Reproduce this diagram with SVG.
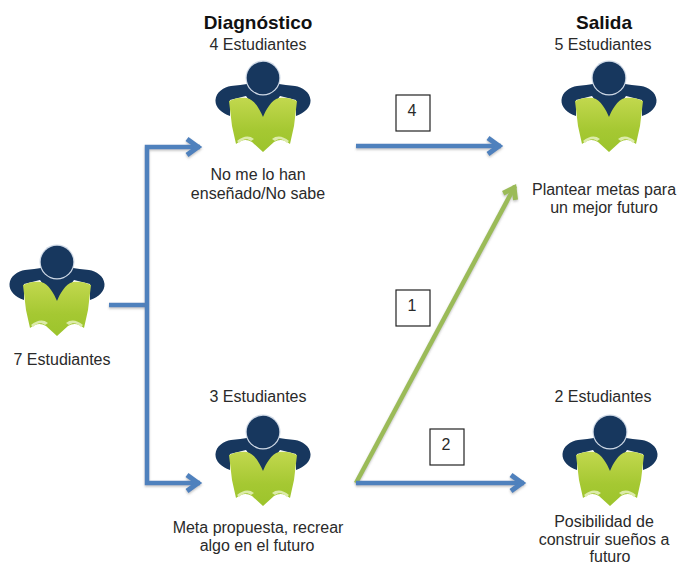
<svg xmlns="http://www.w3.org/2000/svg" width="677" height="565" viewBox="0 0 677 565">
<style>
text{font-family:"Liberation Sans",Arial,sans-serif;font-size:16px;fill:#2a2a2a;text-anchor:middle}
.h{font-size:19px;font-weight:bold;fill:#111}
.c{fill:none;stroke-width:4.5;stroke-linecap:butt;stroke-linejoin:miter;filter:url(#sh)}
.b{stroke:#4f81bd}
.g{stroke:#9bbb59}
.box{fill:#fff;stroke:#222;stroke-width:1.2}
</style>
<defs>
<filter id="sh" filterUnits="userSpaceOnUse" x="0" y="0" width="677" height="565"><feDropShadow dx="0" dy="1.5" stdDeviation="1" flood-color="#777" flood-opacity=".45"/></filter>
<linearGradient id="bk" x1="0" y1="0" x2="0" y2="1"><stop offset="0" stop-color="#c2d84e"/><stop offset=".6" stop-color="#a5c832"/><stop offset="1" stop-color="#9cc42c"/></linearGradient>
<marker id="ab" markerUnits="userSpaceOnUse" markerWidth="24" markerHeight="24" refX="19" refY="12" orient="auto" viewBox="0 0 24 24"><path d="M6 4L17 12L6 20" fill="none" stroke="#4f81bd" stroke-width="5"/></marker>
<marker id="ag" markerUnits="userSpaceOnUse" markerWidth="24" markerHeight="24" refX="19" refY="12" orient="auto" viewBox="0 0 24 24"><path d="M7 5L17 12L7 19" fill="none" stroke="#9bbb59" stroke-width="5"/></marker>
<symbol id="icon" overflow="visible">
<path d="M-33 38C-42 35-48 29-47.5 22C-47 14-39 9-32 8C-26 7-20 7-12 5L12 5C20 7 26 7 32 8C39 9 47 14 47.5 22C48 29 42 35 33 38L33 22L17 18L0 42L-17 18L-33 22Z" fill="#17375e"/>
<path d="M-34 23C-28 20-22 19-16 20C-8 22-3 32 0 39C3 32 8 22 16 20C22 19 28 20 34 23L31 48L27 66C21 61 16 61 11 64L0 74L-11 64C-16 61-21 61-27 66L-31 48Z" fill="url(#bk)"/>
<path d="M-26 63C-20 58-14 57-9 61L-12 63C-16 60-20 61-24 65Z M26 63C20 58 14 57 9 61L12 63C16 60 20 61 24 65Z" fill="#dcebaa"/>
<circle r="17.5" fill="#cfd9e6"/>
<circle r="16.3" fill="#17375e"/>
</symbol>
</defs>
<rect width="677" height="565" fill="#fff"/>
<g id="connectors">
<path class="c b" d="M109 305H147"/>
<path class="c b" d="M147 305V147H200" marker-end="url(#ab)"/>
<path class="c b" d="M147 305V483H200" marker-end="url(#ab)"/>
<path class="c b" d="M356 146H501" marker-end="url(#ab)"/>
<path class="c g" d="M356 483L515 186" marker-end="url(#ag)"/>
<path class="c b" d="M356 483H524" marker-end="url(#ab)"/>
</g>
<g id="node-inicio"><use href="#icon" x="57" y="262"/><text x="62" y="365">7 Estudiantes</text></g>
<g id="node-diagnostico-1"><text class="h" x="258" y="29">Diagnóstico</text><text x="258" y="50">4 Estudiantes</text><use href="#icon" x="263" y="78"/><text x="258" y="180">No me lo han</text><text x="258" y="199">enseñado/No sabe</text></g>
<g id="node-diagnostico-2"><text x="258" y="402">3 Estudiantes</text><use href="#icon" x="263" y="432"/><text x="258" y="533">Meta propuesta, recrear</text><text x="257" y="551">algo en el futuro</text></g>
<g id="node-salida-1"><text class="h" x="604" y="29">Salida</text><text x="603" y="50">5 Estudiantes</text><use href="#icon" x="609" y="78"/><text x="604" y="195">Plantear metas para</text><text x="604" y="213">un mejor futuro</text></g>
<g id="node-salida-2"><text x="603" y="402">2 Estudiantes</text><use href="#icon" x="610" y="432"/><text x="604" y="527">Posibilidad de</text><text x="604" y="545">construir sueños a</text><text x="610" y="562">futuro</text></g>
<g id="label-4"><rect class="box" x="396" y="95" width="34" height="36"/><text x="412" y="116">4</text></g>
<g id="label-1"><rect class="box" x="396" y="290" width="34" height="36"/><text x="412" y="311">1</text></g>
<g id="label-2"><rect class="box" x="430" y="429" width="34" height="36"/><text x="446" y="450">2</text></g>
</svg>
